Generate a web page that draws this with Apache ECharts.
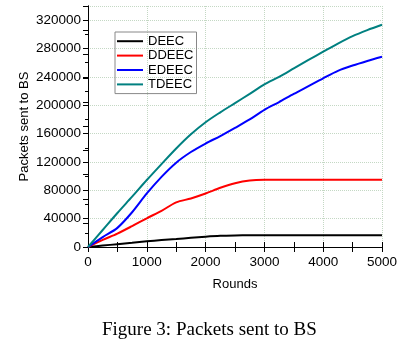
<!DOCTYPE html>
<html>
<head>
<meta charset="utf-8">
<script src="https://cdn.jsdelivr.net/npm/echarts@6/dist/echarts.min.js"></script>
<style>html,body{margin:0;padding:0;background:#fff}#c{width:408px;height:348px}</style>
</head>
<body>
<div id="c"></div>
<script>
var rounds = [0,250,500,750,1000,1250,1500,1750,2000,2250,2500,2750,3000,3250,3500,3750,4000,4250,4500,4750,5000];
var deec  = [0,2000,4000,6000,8000,9800,11300,13000,14600,15800,16300,16500,16500,16500,16500,16500,16500,16500,16500,16500,16500];
var ddeec = [0,10000,19000,29500,40500,51000,63000,68500,75500,83500,90000,93800,94700,94700,94700,94700,94700,94700,94700,94700,94700];
var edeec = [0,14000,27000,49000,75500,99000,119000,134000,146000,156500,168000,180000,193500,204500,216000,227000,238000,248500,256000,262500,268500];
var tdeec = [0,24000,48000,71000,94500,117000,139000,159000,176000,190000,203000,216000,229500,240000,252000,264000,275500,287000,297500,306000,313500];
var seriesNames = ['DEEC','DDEEC','EDEEC','TDEEC'];
var seriesColors = ['#000000','#ff0000','#0000ff','#008080'];
var seriesValues = [deec, ddeec, edeec, tdeec];
var caption = 'Figure 3: Packets sent to BS';

function pairs(v){ return rounds.map(function(r,i){ return [r, v[i]]; }); }
function plain(v){ return String(v); }

var chart = echarts.init(document.getElementById('c'));
var font = 'Liberation Sans, Arial, sans-serif';
var gridLine = {show:true, lineStyle:{color:'#c4d8c4', type:'dotted', width:1}};
chart.setOption({
  animation:false,
  textStyle:{fontFamily:font},
  grid:{left:88, right:26, top:6, bottom:101, containLabel:false},
  legend:{
    left:115, top:32, orient:'vertical', icon:'rect', itemWidth:26, itemHeight:2,
    itemGap:0, padding:[2,3,2,2], borderColor:'#888', borderWidth:1,
    textStyle:{fontSize:13, color:'#000', lineHeight:14.4, fontFamily:font},
    data:seriesNames
  },
  xAxis:[{
    type:'value', min:0, max:5000, interval:1000, position:'bottom',
    name:'Rounds', nameLocation:'middle', nameGap:31,
    nameTextStyle:{fontSize:13, color:'#000', fontFamily:font},
    axisLine:{lineStyle:{color:'#000', width:1}},
    axisTick:{inside:true, length:5, lineStyle:{color:'#000'}},
    minorTick:{show:true, splitNumber:2, length:5, lineStyle:{color:'#000'}},
    axisLabel:{fontSize:13.5, color:'#000', margin:8, fontFamily:font, formatter:plain},
    splitLine:gridLine
  },{
    type:'value', min:0, max:5000, interval:1000, position:'top',
    axisLine:{lineStyle:{color:'#000', width:1}},
    axisTick:{inside:true, length:5, lineStyle:{color:'#000'}},
    minorTick:{show:true, splitNumber:2, length:5, lineStyle:{color:'#000'}},
    axisLabel:{show:false}, splitLine:{show:false}
  }],
  yAxis:[{
    type:'value', min:0, max:340000, interval:40000, position:'left',
    name:'Packets sent to BS', nameLocation:'middle', nameGap:57, nameMoveOverlap:false,
    nameTextStyle:{fontSize:13, color:'#000', fontFamily:font},
    axisLine:{show:true, lineStyle:{color:'#000', width:1}},
    axisTick:{show:true, inside:false, length:5, lineStyle:{color:'#000'}},
    minorTick:{show:true, splitNumber:2, length:3, lineStyle:{color:'#000'}},
    axisLabel:{fontSize:13.5, color:'#000', margin:7, showMaxLabel:false, fontFamily:font, formatter:plain},
    splitLine:gridLine
  },{
    type:'value', min:0, max:10, interval:1, position:'right',
    axisLine:{show:true, lineStyle:{color:'#000', width:1}},
    axisTick:{show:true, inside:true, length:5, lineStyle:{color:'#000'}},
    axisLabel:{show:false}, splitLine:{show:false}
  }],
  series: seriesNames.map(function(n,i){
    return {name:n, type:'line', data:pairs(seriesValues[i]), smooth:0.3, showSymbol:false,
      xAxisIndex:0, yAxisIndex:0, color:seriesColors[i],
      lineStyle:{width:2, color:seriesColors[i]}};
  }),
  graphic:[{
    type:'text', left:102, top:321,
    style:{text:caption, font:'19px "Liberation Serif", "Times New Roman", serif', fill:'#000'}
  }]
});
</script>
</body>
</html>
